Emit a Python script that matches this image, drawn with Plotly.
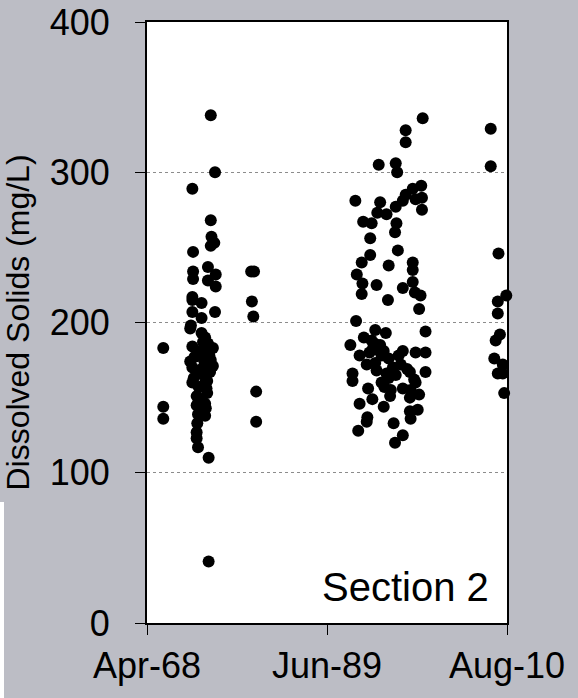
import plotly.graph_objects as go

# Sample dates (YYYY-MM) and dissolved solids (mg/L)
dates = (
    ["1970-03", "1970-03", "1970-03"]
    + ["1975-10", "1976-04", "1973-08", "1975-10", "1975-11", "1976-03", "1975-10",
       "1973-09", "1975-06", "1973-09", "1976-05", "1973-09", "1975-06", "1976-05",
       "1973-08", "1973-08", "1974-09", "1973-08", "1976-04", "1974-09", "1973-05",
       "1974-09", "1975-02", "1973-08", "1975-03", "1975-10", "1973-05", "1975-01",
       "1976-01", "1973-08", "1974-09", "1975-02", "1973-08", "1975-01", "1975-05",
       "1974-02", "1975-02", "1974-02", "1974-04", "1975-02", "1974-02", "1974-02",
       "1974-04", "1975-07", "1975-07",
       "1973-06", "1974-11", "1975-06", "1974-03", "1975-08", "1973-11", "1975-04",
       "1974-06", "1975-09", "1973-10", "1974-05", "1975-04", "1974-08", "1975-03",
       "1974-07", "1974-03", "1975-06", "1976-01", "1974-12", "1975-05"]
    + ["1980-07", "1980-11", "1980-08", "1980-10", "1981-02", "1981-02"]
    + ["2000-09", "1998-09", "1998-09", "1995-07", "1997-07", "1997-09", "1992-10",
       "1995-09", "2000-07", "1999-07", "1998-09", "2000-08", "1999-11", "1998-05",
       "1997-07", "2000-08", "1995-05", "1996-06", "1993-09", "1994-09", "1997-08",
       "1997-06", "1994-07", "1997-10", "1994-07", "1993-07", "1999-07", "1996-09",
       "1999-07", "1992-12", "1993-08", "1995-04", "1999-07", "1998-05", "1993-07",
       "1999-10", "2000-06", "1996-08", "2000-04", "1992-11", "2001-01", "1995-02",
       "1996-05", "1993-10", "1992-03", "1995-01", "1995-04", "1994-11", "1998-05",
       "1999-11", "2001-01", "1993-04", "1996-02", "1996-09", "1994-02", "1995-02",
       "1998-02", "1995-04", "1999-03", "2001-01", "1992-06", "1997-07", "1996-09",
       "1992-06", "1999-11", "1996-03", "1998-05", "1994-04", "1999-04", "1996-12",
       "2000-04", "1999-03", "1994-10", "1996-11", "1993-04", "1996-02", "2000-02",
       "1999-03", "1999-04", "1994-03", "1994-02", "1993-02", "1997-04", "1998-05",
       "1997-06",
       "1994-09", "1995-09", "1995-11", "1997-03", "1997-11", "1998-11", "1999-09",
       "1996-06", "1995-11", "1994-06"]
    + ["2008-09", "2008-09", "2010-07", "2009-08", "2009-07", "2009-07", "2009-10",
       "2009-04", "2009-02", "2010-02", "2009-07", "2010-02", "2010-04"]
)

solids = (
    [183, 144, 136]
    + [338, 300, 289, 268, 257, 253, 251,
       247, 237, 234, 232, 229, 228, 224,
       217, 215, 213, 207, 207, 203, 196,
       193, 190, 184, 182, 175, 174, 174,
       171, 170, 169, 164, 160, 159, 153,
       151, 146, 145, 139, 138, 127, 123,
       117, 110, 41,
       198, 187, 186, 181, 178, 177, 172,
       166, 167, 163, 157, 156, 149, 143,
       141, 133, 180, 183, 176, 161]
    + [234, 234, 214, 204, 154, 134]
    + [336, 328, 320, 305, 306, 300, 281,
       280, 291, 289, 285, 283, 282, 281,
       277, 275, 273, 272, 267, 266, 266,
       260, 256, 248, 245, 240, 240, 238,
       235, 232, 226, 225, 227, 223, 219,
       220, 218, 215, 209, 201, 194, 195,
       193, 190, 185, 186, 182, 183, 181,
       180, 180, 178, 181, 176, 172, 173,
       172, 168, 167, 167, 166, 165, 163,
       161, 160, 157, 156, 156, 155, 155,
       152, 150, 149, 151, 146, 144, 142,
       141, 136, 137, 134, 128, 133, 125,
       120,
       188, 185, 178, 170, 178, 169, 162,
       166, 160, 180]
    + [329, 304, 218, 246, 214, 206, 192,
       188, 176, 172, 166, 166, 153]
)

x_range = ["1968-04-01", "2010-08-01"]
x_tickvals = ["1968-04-01", "1989-06-01", "2010-08-01"]
x_ticktext = ["Apr-68", "Jun-89", "Aug-10"]
y_tickvals = [0, 100, 200, 300, 400]

FONT = "Liberation Sans, Arial, sans-serif"
BG = "#bcbdc5"

fig = go.Figure(
    go.Scatter(
        x=dates, y=solids, mode="markers",
        marker=dict(color="black", size=12, line=dict(width=0)),
        cliponaxis=False, showlegend=False, hoverinfo="skip",
    )
)

fig.update_layout(
    width=578, height=698,
    margin=dict(l=147, r=71, t=22, b=75, pad=0),
    paper_bgcolor=BG, plot_bgcolor="white",
    font=dict(family=FONT, color="black"),
    annotations=[dict(
        text="Section 2", xref="paper", yref="paper",
        x=0.955, y=0.06, xanchor="right", yanchor="middle",
        showarrow=False, font=dict(size=40, family=FONT, color="black"),
    )],
    shapes=[dict(
        type="rect", xref="paper", yref="paper", layer="below",
        x0=-147 / 360, x1=-143 / 360, y0=-75 / 601, y1=(623 - 502) / 601,
        fillcolor="white", line=dict(width=0),
    )],
)

fig.update_xaxes(
    type="date", range=x_range, tickvals=x_tickvals, ticktext=x_ticktext,
    showgrid=False, zeroline=False,
    showline=True, linecolor="black", linewidth=2, mirror=True,
    ticks="outside", ticklen=10, tickwidth=1, tickcolor="black",
    tickfont=dict(size=36, family=FONT), ticklabelstandoff=0,
    automargin=False,
)

fig.update_yaxes(
    range=[0, 400], tickvals=y_tickvals,
    showgrid=True, gridcolor="#8c8c8c", gridwidth=1, griddash="dot",
    zeroline=False,
    showline=True, linecolor="black", linewidth=2, mirror=True,
    ticks="outside", ticklen=10, tickwidth=1, tickcolor="black",
    tickfont=dict(size=36, family=FONT), ticklabelstandoff=18,
    title=dict(text="Dissolved Solids (mg/L)", font=dict(size=32, family=FONT), standoff=14),
    automargin=False,
)

fig.write_html(
    "out.html",
    config={"displayModeBar": False},
    post_script="document.body.style.margin='0';document.body.style.overflow='hidden';",
)
